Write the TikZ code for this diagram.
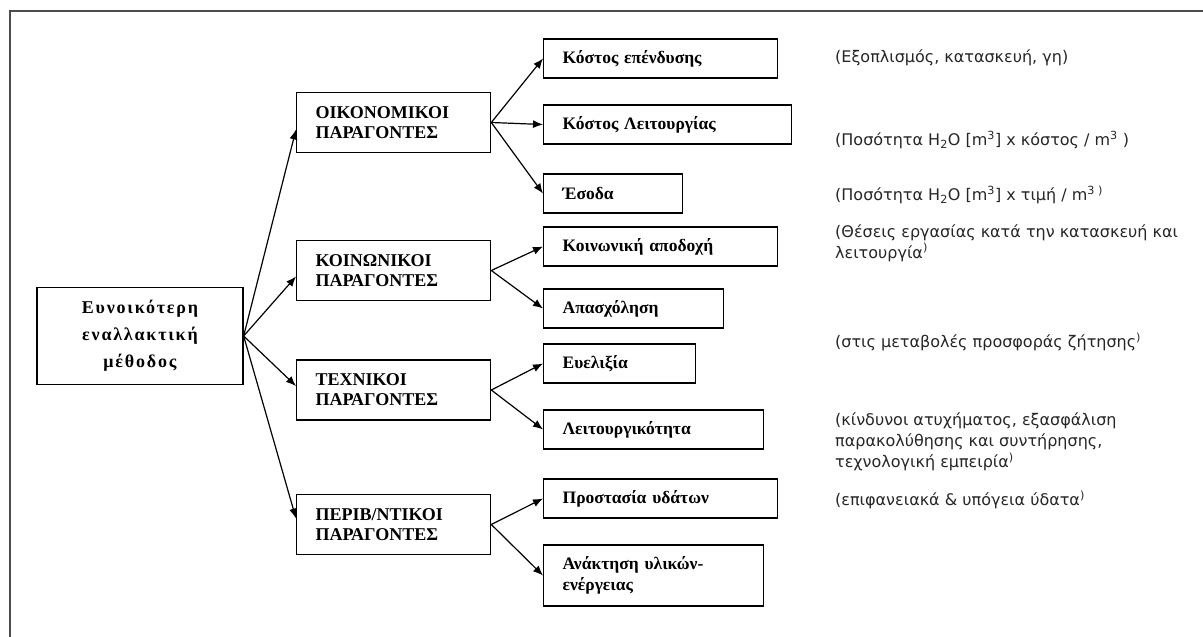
\documentclass[tikz,border=0pt]{standalone}
\usepackage{fontspec}
\setmainfont{Liberation Serif}
\newfontfamily\notefont{DejaVu Sans}
\usetikzlibrary{arrows.meta}
\begin{document}
\begin{tikzpicture}
  [x=1pt,y=-1pt,>={Latex[length=10pt,width=8pt]},
   root/.style={draw,line width=1.3pt,minimum width=206pt,minimum height=97pt,align=center,
     font=\fontsize{18}{27}\selectfont\bfseries\addfontfeature{LetterSpace=10}},
   factor/.style={draw,line width=1.3pt,anchor=west,text width=156pt,inner xsep=19pt,
     minimum height=60pt,align=left,font=\fontsize{18}{20}\selectfont\bfseries},
   item/.style={draw,line width=1.3pt,anchor=west,inner xsep=19pt,minimum height=39pt,
     align=left,font=\fontsize{17.5}{21}\selectfont\bfseries},
   note/.style={anchor=west,inner sep=0pt,align=left,text=black!85,
     font=\notefont\fontsize{16}{21}\selectfont},
   link/.style={->,line width=1.2pt}]
  \useasboundingbox (0,0) rectangle (1203,637);
  % frame
  \draw[line width=1.8pt,black!70] (10,637) |- (1203,11);
  % root and factors
  \node[root] (best) at (140,336) {Ευνοικότερη\\εναλλακτική\\μέθοδος};
  \node[factor] (econ) at (296,122.5) {ΟΙΚΟΝΟΜΙΚΟΙ\\ΠΑΡΑΓΟΝΤΕΣ};
  \node[factor] (soc) at (296,270.5) {ΚΟΙΝΩΝΙΚΟΙ\\ΠΑΡΑΓΟΝΤΕΣ};
  \node[factor] (tech) at (296,390) {ΤΕΧΝΙΚΟΙ\\ΠΑΡΑΓΟΝΤΕΣ};
  \node[factor] (env) at (296,524.5) {ΠΕΡΙΒ/ΝΤΙΚΟΙ\\ΠΑΡΑΓΟΝΤΕΣ};
  % items
  \node[item,text width=196pt] (invest) at (543,58.5) {Κόστος επένδυσης};
  \node[item,text width=210pt] (opcost) at (543,124.5) {Κόστος Λειτουργίας};
  \node[item,text width=101pt] (income) at (543,193.5) {Έσοδα};
  \node[item,text width=196pt] (accept) at (543,246.5) {Κοινωνική αποδοχή};
  \node[item,text width=142pt] (employ) at (543,308.5) {Απασχόληση};
  \node[item,text width=114pt] (flex) at (543,363.5) {Ευελιξία};
  \node[item,text width=182pt] (func) at (543,429.5) {Λειτουργικότητα};
  \node[item,text width=196pt] (water) at (543,498.5) {Προστασία υδάτων};
  \node[item,text width=182pt,minimum height=61pt] (recov) at (543,575.5) {Ανάκτηση υλικών-\\ενέργειας};
  % notes
  \node[note] (ninvest) at (835,58) {(Εξοπλισμός, κατασκευή, γη)};
  \node[note] (nopcost) at (835,140) {(Ποσότητα H\textsubscript{2}O [m\textsuperscript{3}] x κόστος / m\textsuperscript{3} )};
  \node[note] (nincome) at (835,195) {(Ποσότητα H\textsubscript{2}O [m\textsuperscript{3}] x τιμή / m\textsuperscript{3 )}};
  \node[note] (naccept) at (835,243) {(Θέσεις εργασίας κατά την κατασκευή και\\λειτουργία\textsuperscript{)}};
  \node[note] (nflex) at (835,342) {(στις μεταβολές προσφοράς ζήτησης\textsuperscript{)}};
  \node[note] (nfunc) at (835,442) {(κίνδυνοι ατυχήματος, εξασφάλιση\\παρακολύθησης και συντήρησης,\\τεχνολογική εμπειρία\textsuperscript{)}};
  \node[note] (nwater) at (835,500) {(επιφανειακά \& υπόγεια ύδατα\textsuperscript{)}};
  % arrows
  \draw[link] (best.east) -- ([yshift=-7pt]econ.west);
  \draw[link] (best.east) -- ([yshift=-6pt]soc.west);
  \draw[link] (best.east) -- ([yshift=4pt]tech.west);
  \draw[link] (best.east) -- ([yshift=6pt]env.west);
  \foreach \a/\b in {econ/invest,econ/opcost,econ/income,soc/accept,soc/employ,
                     tech/flex,tech/func,env/water,env/recov}
    \draw[link] (\a.east) -- (\b.west);
\end{tikzpicture}
\end{document}
